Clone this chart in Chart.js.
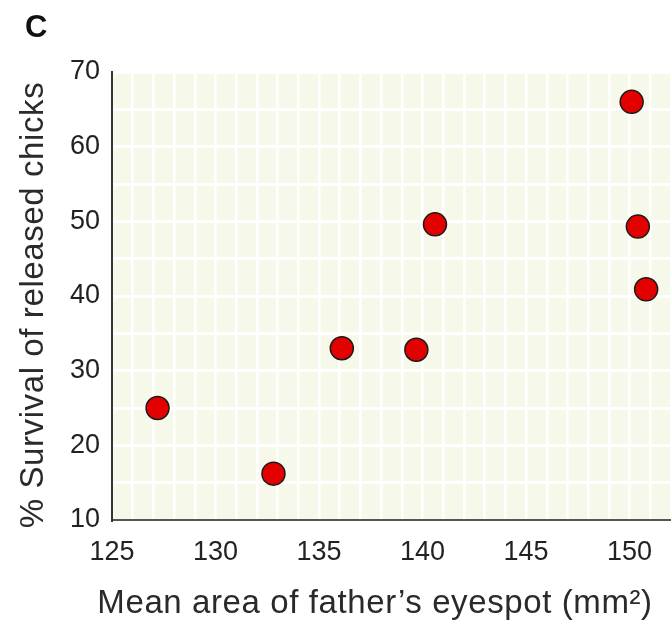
<!DOCTYPE html>
<html>
<head>
<meta charset="utf-8">
<script src="https://cdn.jsdelivr.net/npm/chart.js@4"></script>
<style>
  html, body { margin: 0; padding: 0; background: #ffffff; }
  #wrap { width: 671px; height: 623px; }
</style>
</head>
<body>
<div id="wrap"><canvas id="c" width="671" height="623"></canvas></div>
<script>
// Data
const eyespotArea = [127.2, 132.8, 136.1, 139.7, 140.6, 150.1, 150.4, 150.8];
const survival    = [25.0, 16.2, 33.0, 32.8, 49.6, 66.0, 49.3, 40.9];
const xTickLabels = [125, 130, 135, 140, 145, 150];
const yTickLabels = [10, 20, 30, 40, 50, 60, 70];
const panelLabel = 'C';
const xTitle = 'Mean area of father\u2019s eyespot (mm\u00B2)';
const yTitle = '% Survival of released chicks';

const points = eyespotArea.map((x, i) => ({ x: x, y: survival[i] }));
const FONT = '"Liberation Sans", Arial, Helvetica, sans-serif';

const decoPlugin = {
  id: 'deco',
  beforeDraw(chart) {
    const { ctx, chartArea: a } = chart;
    ctx.save();
    ctx.fillStyle = '#f6f8e9';
    ctx.fillRect(a.left, a.top, a.right - a.left, a.bottom - a.top);
    ctx.restore();
  },
  afterDraw(chart) {
    const { ctx } = chart;
    ctx.save();
    ctx.fillStyle = '#111';
    ctx.font = 'bold 31px ' + FONT;
    ctx.textBaseline = 'alphabetic';
    ctx.textAlign = 'left';
    ctx.fillText(panelLabel, 25, 37);

    ctx.fillStyle = '#2a2a2a';
    ctx.font = '33px ' + FONT;
    ctx.letterSpacing = '0.6px';
    ctx.textAlign = 'center';
    ctx.fillText(xTitle, 375, 613);

    ctx.translate(43, 305);
    ctx.rotate(-Math.PI / 2);
    ctx.fillText(yTitle, 0, 0);
    ctx.restore();
  }
};

new Chart(document.getElementById('c'), {
  type: 'scatter',
  data: {
    datasets: [{
      data: points,
      backgroundColor: '#e30000',
      borderColor: '#1a1a1a',
      borderWidth: 1.5,
      pointRadius: 11.5,
      pointHoverRadius: 11.5,
      clip: false
    }]
  },
  options: {
    responsive: false,
    animation: false,
    events: [],
    layout: { autoPadding: false, padding: { top: 72, right: 0, bottom: 0, left: 0 } },
    plugins: { legend: { display: false }, tooltip: { enabled: false } },
    scales: {
      x: {
        type: 'linear',
        min: 125,
        max: 152,
        afterBuildTicks(scale) {
          const t = [];
          for (let v = 125; v <= 152; v += 1) t.push({ value: v });
          scale.ticks = t;
        },
        afterFit(scale) {
          scale.height = 103;
          scale.paddingLeft = 0;
          scale.paddingRight = 0;
        },
        ticks: {
          autoSkip: false,
          maxRotation: 0,
          padding: 16,
          color: '#222',
          font: { family: FONT, size: 27 },
          callback: (v) => xTickLabels.includes(v) ? String(v) : ''
        },
        grid: { color: '#ffffff', lineWidth: 2.5, drawTicks: false },
        border: { color: '#555', width: 2 }
      },
      y: {
        type: 'linear',
        min: 10,
        max: 70,
        afterBuildTicks(scale) {
          const t = [];
          for (let v = 10; v <= 70; v += 5) t.push({ value: v });
          scale.ticks = t;
        },
        afterFit(scale) {
          scale.width = 112;
          scale.paddingTop = 0;
          scale.paddingBottom = 0;
        },
        ticks: {
          autoSkip: false,
          padding: 12,
          color: '#222',
          font: { family: FONT, size: 27 },
          callback: (v) => yTickLabels.includes(v) ? String(v) : ''
        },
        grid: { color: '#ffffff', lineWidth: 3, drawTicks: false },
        border: { color: '#333', width: 2 }
      }
    }
  },
  plugins: [decoPlugin]
});
</script>
</body>
</html>
